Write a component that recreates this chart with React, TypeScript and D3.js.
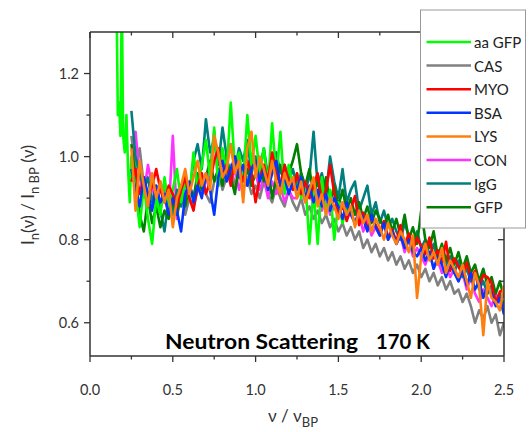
import React from "react";
import * as d3 from "d3";

const W = 532;
const H = 432;
const PL = 90;
const PR = 504;
const PT = 32;
const PB = 356;

const X_DOMAIN = [0, 2.5];
const Y_DOMAIN = [0.52, 1.3];
const X_TICKS = [0, 0.5, 1.0, 1.5, 2.0, 2.5];
const X_MINOR = [0.25, 0.75, 1.25, 1.75, 2.25];
const Y_TICKS = [0.6, 0.8, 1.0, 1.2];
const Y_MINOR = [0.7, 0.9, 1.1];

const SERIES_NAMES = ["aa GFP", "CAS", "MYO", "BSA", "LYS", "CON", "IgG", "GFP"];
const SERIES_COLORS = ["#00ff00", "#808080", "#ff0000", "#0036ff", "#ff7f0e", "#ff33ff", "#007f7f", "#007f00"];
const DRAW_ORDER = [1, 5, 6, 7, 0, 2, 3, 4];

const X_MAIN = [
  0.25, 0.275, 0.3, 0.325, 0.35, 0.375, 0.4, 0.425, 0.45, 0.475,
  0.5, 0.525, 0.55, 0.575, 0.6, 0.625, 0.65, 0.675, 0.7, 0.725,
  0.75, 0.775, 0.8, 0.825, 0.85, 0.875, 0.9, 0.925, 0.95, 0.975,
  1.0, 1.025, 1.05, 1.075, 1.1, 1.125, 1.15, 1.175, 1.2, 1.225,
  1.25, 1.275, 1.3, 1.325, 1.35, 1.375, 1.4, 1.425, 1.45, 1.475,
  1.5, 1.525, 1.55, 1.575, 1.6, 1.625, 1.65, 1.675, 1.7, 1.725,
  1.75, 1.775, 1.8, 1.825, 1.85, 1.875, 1.9, 1.925, 1.95, 1.975,
  2.0, 2.025, 2.05, 2.075, 2.1, 2.125, 2.15, 2.175, 2.2, 2.225,
  2.25, 2.275, 2.3, 2.325, 2.35, 2.375, 2.4, 2.425, 2.45, 2.475,
  2.5,
];

const X_AAGFP = [
  0.16, 0.168, 0.176, 0.184, 0.192, 0.2, 0.21, 0.22, 0.23, 0.24,
  0.25, 0.275, 0.3, 0.325, 0.35, 0.375, 0.4, 0.425, 0.45, 0.475,
  0.5, 0.525, 0.55, 0.575, 0.6, 0.625, 0.65, 0.675, 0.7, 0.725,
  0.75, 0.775, 0.8, 0.825, 0.85, 0.875, 0.9, 0.925, 0.95, 0.975,
  1.0, 1.025, 1.05, 1.075, 1.1, 1.125, 1.15, 1.175, 1.2, 1.225,
  1.25, 1.275, 1.3, 1.325, 1.35, 1.375, 1.4, 1.425, 1.45, 1.475,
  1.5, 1.525, 1.55,
];

const Y_AAGFP = [
  1.4, 1.1, 1.13, 1.05, 1.4, 1.05, 1.01, 1.1, 0.97, 0.89,
  1.0, 0.92, 0.83, 0.93, 0.85, 0.79, 0.9, 0.86, 0.95, 0.88,
  0.92, 0.97, 0.89, 0.94, 0.9, 1.01, 0.92, 0.98, 1.04, 0.95,
  1.07, 0.93, 1.02, 0.96, 1.13, 0.97, 1.01, 0.94, 1.1, 0.98,
  1.05, 0.96, 1.02, 0.93, 1.08, 0.95, 1.06, 0.91, 0.98, 0.93,
  0.96, 0.9, 0.94, 0.79, 0.92, 0.79, 0.95, 0.86, 0.92, 0.8,
  0.89, 0.84, 0.88,
];

const Y_CAS = [
  1.05, 0.97, 1.02, 0.93, 0.89, 0.95, 0.91, 0.87, 0.92, 0.88,
  0.91, 0.89, 0.93, 0.86, 0.9, 0.88, 0.92, 0.95, 0.91, 0.89,
  0.94, 0.97, 0.92, 0.95, 0.98, 0.93, 0.96, 0.92, 0.95, 0.91,
  0.93, 0.9, 0.94, 0.91, 0.89, 0.93, 0.9, 0.88, 0.92, 0.89,
  0.87, 0.9, 0.86, 0.88, 0.85, 0.87, 0.84, 0.86, 0.83, 0.85,
  0.82, 0.84, 0.81, 0.83, 0.8, 0.82, 0.78, 0.8, 0.77, 0.79,
  0.76, 0.78, 0.75, 0.77, 0.74, 0.76, 0.73, 0.75, 0.72, 0.74,
  0.71, 0.73, 0.7, 0.72, 0.69, 0.71, 0.68, 0.7, 0.67, 0.68,
  0.65, 0.67, 0.64, 0.6, 0.63, 0.61, 0.64, 0.6, 0.62, 0.57,
  0.6,
];

const Y_MYO = [
  0.94, 0.97, 0.91, 0.95, 0.9, 0.93, 0.97, 0.92, 0.89, 0.93,
  0.91, 0.88, 0.92, 0.95, 0.9, 0.87, 0.93, 0.96, 0.91, 0.94,
  0.99, 1.02, 0.95, 0.98, 0.93, 1.0, 0.97, 0.94, 0.99, 0.96,
  0.89, 0.95, 0.98, 0.94, 1.01, 0.96, 0.93, 0.98, 0.94, 0.92,
  0.96, 0.91, 0.94, 0.9, 0.93, 0.96, 0.89, 0.92, 0.98, 0.91,
  0.855, 0.885, 0.845, 0.875, 0.905, 0.835, 0.865, 0.825, 0.855, 0.835,
  0.815, 0.845, 0.805, 0.825, 0.795, 0.835, 0.785, 0.815, 0.775, 0.805,
  0.785, 0.765, 0.805, 0.755, 0.775, 0.745, 0.795, 0.725, 0.755, 0.735,
  0.715, 0.745, 0.705, 0.725, 0.685, 0.715, 0.71, 0.695, 0.645, 0.675,
  0.68,
];

const Y_BSA = [
  0.97, 0.92, 0.88, 0.95, 0.91, 0.87, 0.93, 0.89, 0.91, 0.86,
  0.9, 0.87, 0.82, 0.91, 0.94, 0.89, 0.93, 0.9, 0.96, 0.92,
  0.86, 0.95, 0.99, 0.94, 0.97, 1.0, 0.95, 0.98, 0.93, 0.97,
  0.99, 0.94, 0.97, 0.92, 0.96, 0.99, 0.93, 0.95, 0.91, 0.94,
  0.92, 0.95, 0.9, 0.93, 0.89, 0.92, 0.88, 0.91, 0.87, 0.9,
  0.88, 0.85, 0.89, 0.86, 0.84, 0.87, 0.85, 0.82, 0.86, 0.83,
  0.81, 0.84, 0.8, 0.82, 0.79, 0.81, 0.78, 0.8, 0.77, 0.76,
  0.78, 0.75, 0.77, 0.73, 0.76, 0.74, 0.71, 0.75, 0.72, 0.7,
  0.73, 0.69, 0.72, 0.68, 0.7, 0.66, 0.69, 0.67, 0.64, 0.66,
  0.62,
];

const Y_LYS = [
  1.02, 0.87, 0.99, 0.93, 0.88, 0.96, 0.9, 0.94, 0.89, 0.92,
  0.83, 0.9, 0.93, 0.97, 0.91, 0.95, 0.99, 0.93, 0.96, 0.92,
  1.05, 1.01, 0.95, 0.97, 1.03, 0.96, 0.99, 0.89, 1.02, 1.06,
  0.95, 1.0, 0.97, 0.93, 0.99, 0.94, 0.91, 0.96, 0.93, 0.95,
  0.9, 0.94, 0.89, 0.92, 0.95, 0.88, 0.91, 0.86, 0.9, 0.88,
  0.85, 0.89, 0.86, 0.88, 0.83, 0.87, 0.84, 0.86, 0.82, 0.85,
  0.83, 0.8, 0.84, 0.81, 0.79, 0.82, 0.8, 0.77, 0.81, 0.66,
  0.76, 0.79, 0.75, 0.77, 0.74, 0.78, 0.72, 0.75, 0.73, 0.71,
  0.74, 0.7, 0.66, 0.72, 0.69, 0.57, 0.7, 0.66, 0.65, 0.63,
  0.69,
];

const Y_CON = [
  0.99, 1.06, 0.95, 0.91, 0.98, 0.93, 0.88, 0.94, 0.9, 0.86,
  1.05, 0.85, 0.92, 0.89, 0.93, 0.9, 0.95, 0.91, 0.94, 0.97,
  1.06, 0.93, 0.96, 0.99, 0.94, 0.97, 0.92, 0.96, 0.99, 0.94,
  0.96, 0.92, 0.95, 0.9, 0.94, 0.91, 0.93, 0.89, 0.92, 0.9,
  0.9, 0.93, 0.89, 0.92, 0.88, 0.91, 0.87, 0.9, 0.86, 0.88,
  0.86, 0.89, 0.85, 0.87, 0.84, 0.86, 0.82, 0.85, 0.81, 0.83,
  0.81, 0.84, 0.8, 0.82, 0.79, 0.81, 0.77, 0.8, 0.76, 0.78,
  0.76, 0.74, 0.77, 0.73, 0.75, 0.72, 0.74, 0.71, 0.73, 0.7,
  0.72, 0.68, 0.71, 0.67, 0.65, 0.68, 0.66, 0.64, 0.67, 0.65,
  0.63,
];

const Y_IGG = [
  1.11, 1.0, 0.96, 0.92, 0.95, 0.89, 0.93, 0.87, 0.82, 0.9,
  0.86, 0.92, 0.88, 0.95, 0.91, 0.99, 1.03, 0.97, 1.09, 1.01,
  1.04, 0.98, 1.07, 1.0, 1.03, 0.97, 1.02, 0.99, 1.04, 0.96,
  1.0, 0.97, 1.02, 0.95, 0.99, 1.01, 0.96, 0.98, 0.94, 0.97,
  0.93, 0.96, 0.92, 0.95, 1.06, 0.93, 0.96, 0.91, 1.0, 0.94,
  0.9, 0.97, 0.89, 0.92, 0.94, 0.87, 0.9, 0.93, 0.86, 0.89,
  0.84, 0.87, 0.83, 0.85, 0.82, 0.8, 0.84, 0.81, 0.79, 0.82,
  0.78, 0.8, 0.76, 0.79, 0.75, 0.77, 0.74, 0.76, 0.72, 0.75,
  0.71, 0.73, 0.7, 0.72, 0.68, 0.7, 0.67, 0.69, 0.65, 0.67,
  0.64,
];

const Y_GFP = [
  1.03, 0.95, 0.86, 0.82, 0.9, 0.84, 0.88, 0.83, 0.87, 0.85,
  0.89, 0.86, 0.91, 0.88, 0.93, 0.9, 0.96, 0.92, 0.95, 0.99,
  0.94, 0.97, 0.93, 1.0, 0.95, 0.91, 0.98, 0.94, 0.97, 0.93,
  0.96, 0.99, 0.94, 0.97, 0.9, 0.95, 0.98, 0.93, 0.96, 0.99,
  1.03, 0.96, 0.93, 0.97, 0.91, 0.94, 0.9, 0.95, 0.89, 0.93,
  0.88, 0.92, 0.87, 0.9, 0.86, 0.89, 0.85, 0.88, 0.84, 0.87,
  0.85, 0.83, 0.86, 0.82, 0.85, 0.81, 0.86, 0.8, 0.83, 0.79,
  0.87, 0.8, 0.78, 0.82, 0.76, 0.79, 0.75, 0.78, 0.74, 0.77,
  0.73, 0.76, 0.72, 0.74, 0.7, 0.73, 0.69, 0.71, 0.67, 0.7,
  0.66,
];

const SERIES_X = [X_AAGFP, X_MAIN, X_MAIN, X_MAIN, X_MAIN, X_MAIN, X_MAIN, X_MAIN];
const SERIES_Y = [Y_AAGFP, Y_CAS, Y_MYO, Y_BSA, Y_LYS, Y_CON, Y_IGG, Y_GFP];

const FONT = "Lato, 'Open Sans', sans-serif";
const AXIS = "#333";

export default function App() {
  const x = d3.scaleLinear().domain(X_DOMAIN).range([PL, PR]);
  const y = d3.scaleLinear().domain(Y_DOMAIN).range([PB, PT]);
  const line = d3
    .line<[number, number]>()
    .x((d) => x(d[0]))
    .y((d) => y(d[1]));

  const legendTop = 42;
  const legendStep = 23.6;

  return (
    <svg
      width={W}
      height={H}
      style={{ position: "absolute", left: 0, top: 0, background: "#fff" }}
      fontFamily={FONT}
    >
      <rect x={0} y={0} width={W} height={H} fill="#fff" />
      <defs>
        <clipPath id="plotclip">
          <rect x={PL} y={PT} width={PR - PL} height={PB - PT} />
        </clipPath>
      </defs>

      <g clipPath="url(#plotclip)">
        {DRAW_ORDER.map((si) => {
          const pts: [number, number][] = SERIES_X[si].map((xv, i) => [xv, SERIES_Y[si][i]]);
          return (
            <path
              key={si}
              d={line(pts) || ""}
              fill="none"
              stroke={SERIES_COLORS[si]}
              strokeWidth={2.6}
              strokeLinejoin="round"
            />
          );
        })}
      </g>

      <g stroke={AXIS} strokeWidth={1.5} fill="none">
        <line x1={PL} y1={PT} x2={PR} y2={PT} />
        <line x1={PL} y1={PB} x2={PR} y2={PB} />
        <line x1={PL} y1={PT} x2={PL} y2={PB} />
        <line x1={PR} y1={PT} x2={PR} y2={PB} />
      </g>

      <g stroke={AXIS} strokeWidth={1.3}>
        {X_TICKS.map((t) => (
          <g key={"xt" + t}>
            <line x1={x(t)} x2={x(t)} y1={PB} y2={PB + 6} />
            <line x1={x(t)} x2={x(t)} y1={PT} y2={PT + 6} />
          </g>
        ))}
        {X_MINOR.map((t) => (
          <g key={"xm" + t}>
            <line x1={x(t)} x2={x(t)} y1={PB} y2={PB + 3.5} />
            <line x1={x(t)} x2={x(t)} y1={PT} y2={PT + 3.5} />
          </g>
        ))}
        {Y_TICKS.map((t) => (
          <g key={"yt" + t}>
            <line x1={PL - 6} x2={PL} y1={y(t)} y2={y(t)} />
            <line x1={PR - 6} x2={PR} y1={y(t)} y2={y(t)} />
          </g>
        ))}
        {Y_MINOR.map((t) => (
          <g key={"ym" + t}>
            <line x1={PL - 3.5} x2={PL} y1={y(t)} y2={y(t)} />
            <line x1={PR - 3.5} x2={PR} y1={y(t)} y2={y(t)} />
          </g>
        ))}
      </g>

      <g fill={AXIS} fontSize={14.5}>
        {X_TICKS.map((t) => (
          <text key={"xl" + t} x={x(t)} y={PB + 39} textAnchor="middle">
            {d3.format(".1f")(t)}
          </text>
        ))}
        {Y_TICKS.map((t) => (
          <text key={"yl" + t} x={PL - 11} y={y(t)} textAnchor="end" dominantBaseline="central">
            {d3.format(".1f")(t)}
          </text>
        ))}
      </g>

      <text x={293} y={422} textAnchor="middle" fontSize={17} fill={AXIS}>
        <tspan>ν / ν</tspan>
        <tspan dy={5} fontSize={13}>BP</tspan>
      </text>
      <text
        transform={`translate(34,195) rotate(-90)`}
        textAnchor="middle"
        fontSize={17}
        fill={AXIS}
      >
        <tspan>I</tspan>
        <tspan dy={5} fontSize={13}>n</tspan>
        <tspan dy={-5}>(ν)  / I</tspan>
        <tspan dy={5} fontSize={13}>n BP</tspan>
        <tspan dy={-5}> (ν)</tspan>
      </text>

      <text x={165} y={349} fontSize={20.5} fontWeight="bold" fill="#000" textLength={193} lengthAdjust="spacingAndGlyphs">
        Neutron Scattering
      </text>
      <text x={376} y={349} fontSize={20.5} fontWeight="bold" fill="#000" textLength={54} lengthAdjust="spacingAndGlyphs">
        170 K
      </text>

      <rect x={420.5} y={10} width={105} height={218} fill="#fff" stroke="#999" strokeWidth={1} />
      {SERIES_NAMES.map((name, i) => {
        const ly = legendTop + i * legendStep;
        return (
          <g key={name}>
            <line x1={426.5} x2={471} y1={ly} y2={ly} stroke={SERIES_COLORS[i]} strokeWidth={2.5} />
            <text x={474} y={ly} dominantBaseline="central" fontSize={15} fill="#222">
              {name}
            </text>
          </g>
        );
      })}
    </svg>
  );
}
